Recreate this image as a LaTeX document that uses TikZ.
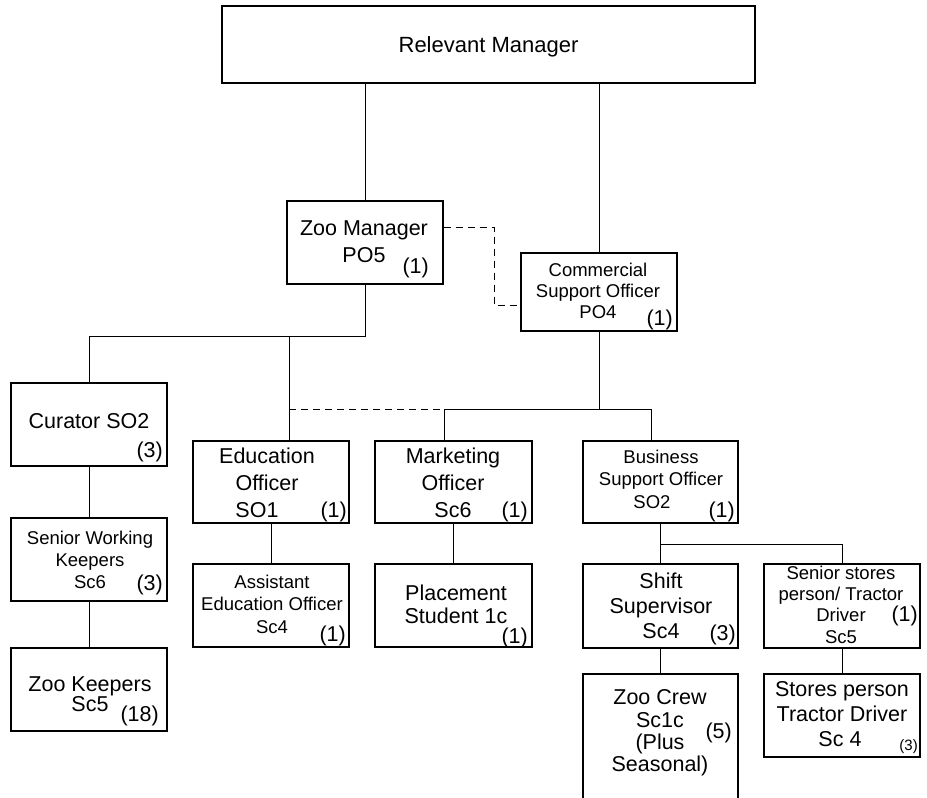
\documentclass[tikz,border=0pt]{standalone}
\usepackage{fontspec}
\setmainfont{Liberation Sans}
\newcommand\lft[1]{\fontsize{21.5}{#1}\selectfont}
\newcommand\smt[1]{\fontsize{18.5}{#1}\selectfont}
\begin{document}
\begin{tikzpicture}[x=1pt,y=-1pt,
  box/.style={draw, line width=1.2pt, inner sep=0pt, minimum width=156pt, minimum height=83pt},
  conn/.style={line width=1pt},
  dashline/.style={line width=1pt, dash pattern=on 7pt off 5pt},
  txt/.style={inner sep=0pt, align=center, anchor=north},
  cnt/.style={inner sep=0pt, anchor=base east, font=\fontsize{21.5}{24}\selectfont},
  smallcnt/.style={inner sep=0pt, anchor=base east, font=\fontsize{15}{17}\selectfont}]
\useasboundingbox (0,0) rectangle (927,798);
\clip (0,0) rectangle (927,798);
% boxes
\node[box, minimum width=533pt, minimum height=77pt] (rm) at (488.5,44.5) {};
\node[box, minimum height=83pt] (zm) at (365,242.5) {};
\node[box, minimum height=78pt] (cso) at (599,292) {};
\node[box] (cur) at (89,424.5) {};
\node[box, minimum height=82pt] (edu) at (271,482) {};
\node[box, minimum width=157pt, minimum height=82pt] (mkt) at (453.5,482) {};
\node[box, minimum width=155pt, minimum height=82pt] (bso) at (660.5,482) {};
\node[box] (swk) at (89,559.5) {};
\node[box] (zk) at (89,689.5) {};
\node[box] (aeo) at (271,605.5) {};
\node[box, minimum width=157pt] (ps) at (453.5,605.5) {};
\node[box, minimum width=155pt, minimum height=84pt] (ss) at (660.5,606) {};
\node[box, minimum height=84pt] (ssp) at (842,606) {};
\node[box, minimum width=155pt, minimum height=146pt] (zc) at (660.5,747) {};
\node[box] (sp) at (842,715.5) {};
% texts
\node[inner sep=0pt, anchor=base, font=\fontsize{22}{26}\selectfont] (rmt) at (488.5,52) {Relevant Manager};
\node[txt, font=\lft{27}] (zmt) at (364,220.5) {Zoo Manager\\PO5};
\node[cnt] (zmc) at (429,273) {(1)};
\node[txt, font=\smt{21}] (csot) at (598,262.7) {Commercial\\Support Officer\\PO4};
\node[cnt] (csoc) at (673,325) {(1)};
\node[inner sep=0pt, anchor=base, font=\lft{26}] (curt) at (89,428) {Curator SO2};
\node[cnt] (curc) at (163,457) {(3)};
\node[txt, font=\lft{27}] (edut) at (267,447.5) {Education\\Officer\\SO1\kern20pt};
\node[cnt] (educ) at (347,517) {(1)};
\node[txt, font=\lft{27}] (mktt) at (453,447.5) {Marketing\\Officer\\Sc6};
\node[cnt] (mktc) at (528,517) {(1)};
\node[txt, font=\smt{22.5}] (bsot) at (661,449.7) {Business\\Support Officer\\SO2\kern18pt};
\node[cnt] (bsoc) at (735,517) {(1)};
\node[txt, font=\smt{22}] (swkt) at (90,530.7) {Senior Working\\Keepers\\Sc6};
\node[cnt] (swkc) at (163,590) {(3)};
\node[txt, font=\lft{20}] (zkt) at (90,676.5) {Zoo Keepers\\Sc5};
\node[cnt] (zkc) at (159,721) {(18)};
\node[txt, font=\smt{22.5}] (aeot) at (272,574.7) {Assistant\\Education Officer\\Sc4};
\node[cnt] (aeoc) at (346,641) {(1)};
\node[txt, font=\lft{23}] (pst) at (456,584.5) {Placement\\Student 1c};
\node[cnt] (psc) at (528,643) {(1)};
\node[txt, font=\lft{25}] (sst) at (661,572.5) {Shift\\Supervisor\\Sc4};
\node[cnt] (ssc) at (736,640) {(3)};
\node[txt, font=\smt{21.3}] (sspt) at (841,565.7) {Senior stores\\person/ Tractor\\Driver\\Sc5};
\node[cnt] (sspc) at (918,621) {(1)};
\node[txt, font=\lft{22.3}] (zct) at (660,689.5) {Zoo Crew\\Sc1c\\(Plus\\Seasonal)};
\node[cnt] (zcc) at (732,738) {(5)};
\node[txt, font=\lft{25}] (spt) at (842,681.5) {Stores person\\Tractor Driver\\Sc 4\kern4pt};
\node[smallcnt] (spc) at (918,750) {(3)};
% connector coordinates
\coordinate (d1) at (494,227);
\coordinate (d2) at (494,305);
\coordinate (j1) at (365,336);
\coordinate (j2) at (289,336);
\coordinate (k0) at (289,409);
\coordinate (k1) at (599,409);
\coordinate (k2) at (444,409);
\coordinate (k3) at (651,409);
\coordinate (m1) at (660.5,544);
% connectors
\draw[conn] (rm.south -| zm.north) -- (zm.north);
\draw[conn] (rm.south -| cso.north) -- (cso.north);
\draw[dashline] (zm.east |- d1) -| (d2) -- (cso.west |- d2);
\draw[conn] (zm.south) -- (j1) -| (cur.north);
\draw[conn] (j2) -- (j2 |- edu.north);
\draw[conn] (cso.south) -- (k1);
\draw[dashline] (k0) -- (k2);
\draw[conn] (k2) -- (k3);
\draw[conn] (k2) -- (k2 |- mkt.north);
\draw[conn] (k3) -- (k3 |- bso.north);
\draw[conn] (cur.south) -- (swk.north);
\draw[conn] (swk.south) -- (zk.north);
\draw[conn] (edu.south) -- (aeo.north);
\draw[conn] (mkt.south) -- (ps.north);
\draw[conn] (bso.south) -- (ss.north);
\draw[conn] (m1) -| (ssp.north);
\draw[conn] (ss.south) -- (zc.north);
\draw[conn] (ssp.south) -- (sp.north);
\end{tikzpicture}
\end{document}
